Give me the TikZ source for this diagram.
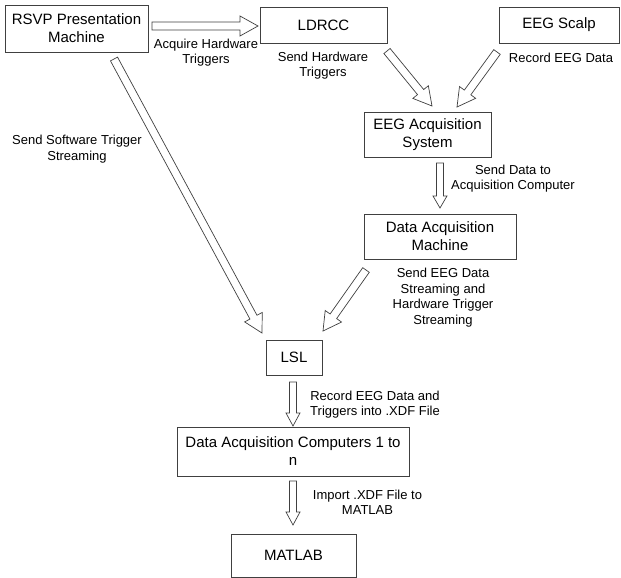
\documentclass[tikz,border=0pt]{standalone}
\usepackage{fontspec}
\setmainfont{Liberation Sans}
\usetikzlibrary{calc}

\tikzset{
  box/.style={draw=black!75, line width=0.8pt, inner sep=0pt, align=center,
              font=\fontsize{15}{18}\selectfont},
  lbl/.style={inner sep=0pt, align=center, font=\fontsize{13}{15.5}\selectfont},
  hollow/.style={draw=black!75, line width=0.7pt, fill=white, line join=miter}
}

% Hollow block arrow from #1 to #2: shaft half-width #3, head half-width #4, head length #5
\newcommand\blockarrow[5]{%
  \draw[hollow]
    ($(#1)!#3!90:(#2)$) --
    ($($(#2)!#5!(#1)$)!#3!90:(#2)$) --
    ($($(#2)!#5!(#1)$)!#4!90:(#2)$) --
    (#2) --
    ($($(#2)!#5!(#1)$)!#4!-90:(#2)$) --
    ($($(#2)!#5!(#1)$)!#3!-90:(#2)$) --
    ($(#1)!#3!-90:(#2)$) -- cycle;
}

\begin{document}
\begin{tikzpicture}[x=1pt,y=-1pt]
\useasboundingbox (0,0) rectangle (621,578);

% processing stages
\node[box, minimum width=143pt, minimum height=47pt] (rsvp) at (76.5,28.5) {RSVP Presentation\\Machine};
\node[box, minimum width=127pt, minimum height=36pt] (ldrcc) at (323.5,25) {LDRCC};
\node[box, minimum width=120pt, minimum height=36pt] (scalp) at (559,25) {EEG Scalp};
\node[box, minimum width=127pt, minimum height=45pt] (eegacq) at (427.5,134.5) {EEG Acquisition\\System};
\node[box, minimum width=152pt, minimum height=45pt] (daq) at (440,236.5) {Data Acquisition\\Machine};
\node[box, minimum width=56pt, minimum height=35pt] (lsl) at (294,357.5) {LSL};
\node[box, minimum width=232pt, minimum height=49pt] (comp) at (293,451.5) {Data Acquisition Computers 1 to\\n};
\node[box, minimum width=125pt, minimum height=43pt] (matlab) at (293.5,555.5) {MATLAB};

% arrow end points
\coordinate (a1s) at (152,26);   \coordinate (a1e) at (258,26);
\coordinate (a2s) at (387,51);   \coordinate (a2e) at (432,106);
\coordinate (a3s) at (497,52);   \coordinate (a3e) at (457,107);
\coordinate (a4s) at (440,163);  \coordinate (a4e) at (440,208);
\coordinate (a5s) at (366,270);  \coordinate (a5e) at (323,331);
\coordinate (a6s) at (114,59);   \coordinate (a6e) at (262,333);
\coordinate (a7s) at (293,382);  \coordinate (a7e) at (293,426);
\coordinate (a8s) at (293,481);  \coordinate (a8e) at (293,525);

\blockarrow{a1s}{a1e}{4pt}{10pt}{18pt}
\blockarrow{a2s}{a2e}{4pt}{10pt}{18pt}
\blockarrow{a3s}{a3e}{4pt}{10pt}{18pt}
\blockarrow{a4s}{a4e}{3.5pt}{7pt}{12pt}
\blockarrow{a5s}{a5e}{4pt}{10pt}{18pt}
\blockarrow{a6s}{a6e}{4pt}{10pt}{18pt}
\blockarrow{a7s}{a7e}{3.5pt}{7pt}{13pt}
\blockarrow{a8s}{a8e}{3.5pt}{7pt}{13pt}

% arrow labels
\node[lbl] (l1) at (206,52.5) {Acquire Hardware\\Triggers};
\node[lbl] (l2) at (323,65.5) {Send Hardware\\Triggers};
\node[lbl] (l3) at (561,58) {Record EEG Data};
\node[lbl] (l4) at (77,149) {Send Software Trigger\\Streaming};
\node[lbl] (l5) at (513,178.5) {Send Data to\\Acquisition Computer};
\node[lbl] (l6) at (443,297.5) {Send EEG Data\\Streaming and\\Hardware Trigger\\Streaming};
\node[lbl] (l7) at (375,404.5) {Record EEG Data and\\Triggers into .XDF File};
\node[lbl] (l8) at (367.5,502.5) {Import .XDF File to\\MATLAB};
\end{tikzpicture}
\end{document}
